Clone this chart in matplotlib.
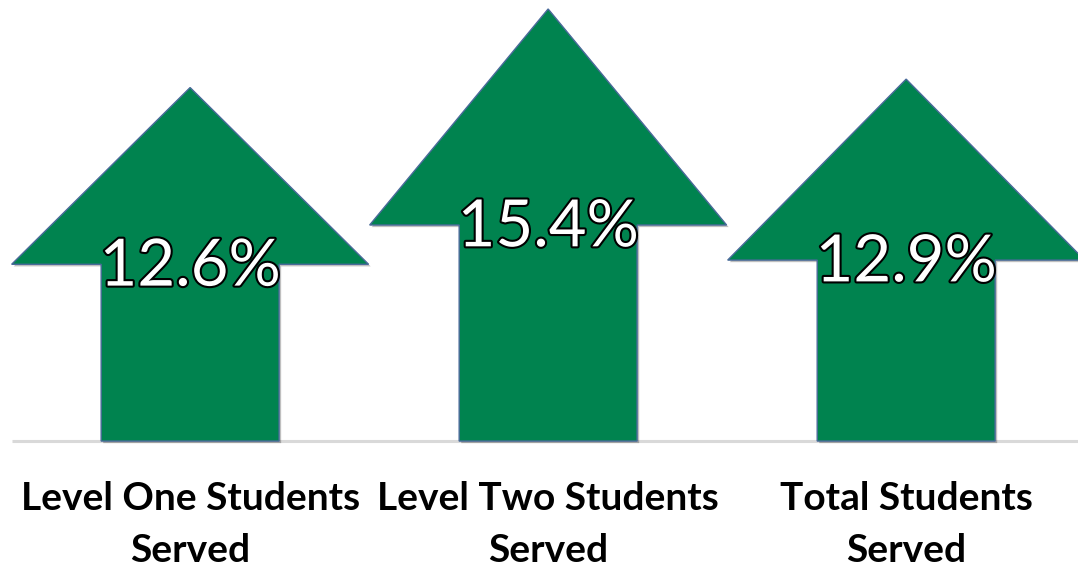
import matplotlib
matplotlib.use("Agg")
import matplotlib.pyplot as plt
import matplotlib.patheffects as pe

categories = ["Level One Students\nServed", "Level Two Students\nServed", "Total Students\nServed"]
values = [12.6, 15.4, 12.9]
value_labels = ["12.6%", "15.4%", "12.9%"]

ARROW_GREEN = "#00834F"
EDGE_BLUE = "#4A6A9A"

fig = plt.figure(figsize=(10.78, 5.69), dpi=100)
ax = fig.add_axes([0, 0, 1, 1])
ax.set_xlim(-0.531, 2.480)
ax.set_ylim(-4.56, 15.72)
ax.axis("off")

# baseline
ax.plot([-0.497, 2.480], [0, 0], color="#D9D9D9", lw=2.2, zorder=1, solid_capstyle="butt")

shadow = [pe.SimplePatchShadow(offset=(1.5, -1.5), shadow_rgbFace="#000000", alpha=0.25), pe.Normal()]

for i, (v, lab) in enumerate(zip(values, value_labels)):
    ax.arrow(i, 0, 0, v, width=0.497, head_width=0.997, head_length=v / 2,
             length_includes_head=True, facecolor=ARROW_GREEN, edgecolor=EDGE_BLUE,
             linewidth=1.0, zorder=2, path_effects=shadow)
    ax.text(i, v / 2 - 0.1, lab, ha="center", va="center", fontsize=47, family="Lato",
            color="white", zorder=3,
            path_effects=[pe.withStroke(linewidth=3, foreground="black")])

for i, cat in enumerate(categories):
    ax.text(i, -2.96, cat, ha="center", va="center", fontsize=28, family="Lato",
            fontweight="bold", color="black", linespacing=1.58)

fig.savefig("out.png", dpi=100)
